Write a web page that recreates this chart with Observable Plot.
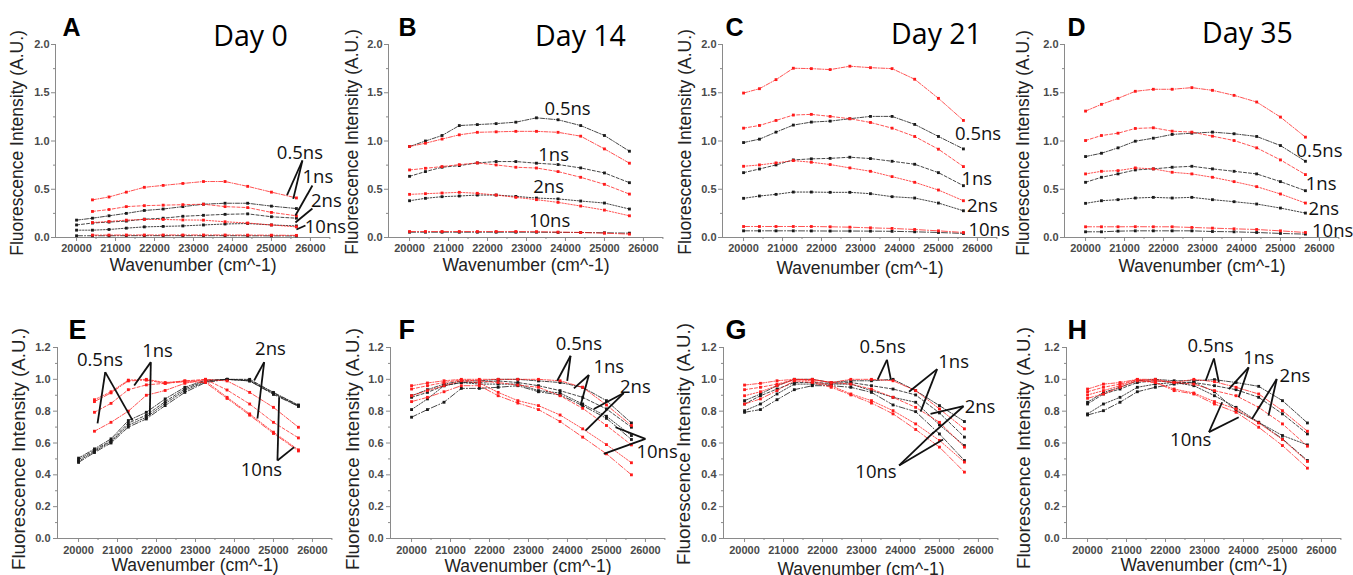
<!DOCTYPE html>
<html><head><meta charset="utf-8">
<script src="https://cdn.jsdelivr.net/npm/d3@7"></script>
<script src="https://cdn.jsdelivr.net/npm/@observablehq/plot@0.6"></script>
<style>
body{margin:0;background:#fff;}
#fig{position:relative;width:1353px;height:575px;overflow:hidden;background:#fff;}
#fig svg{position:absolute;overflow:visible;}
</style></head><body><div id="fig"></div>
<script>
// ---------- data ----------
const wavenumbers = [20000, 20408, 20833, 21277, 21739, 22222, 22727, 23256, 23810, 24390, 25000, 25641];
const lifetimes = ["0.5ns", "1ns", "2ns", "10ns"];
const xTickLabels = [20000, 21000, 22000, 23000, 24000, 25000, 26000];
const xMinorTicks = [20500, 21500, 22500, 23500, 24500, 25500, 26500];
const yTicksTop = [0, 0.5, 1.0, 1.5, 2.0];
const yMinorTop = [0.25, 0.75, 1.25, 1.75];
const yTicksBottom = [0, 0.2, 0.4, 0.6, 0.8, 1.0, 1.2];
const yMinorBottom = [0.1, 0.3, 0.5, 0.7, 0.9, 1.1];
const panelLetters = ["A", "B", "C", "D", "E", "F", "G", "H"];
const dayTitles = ["Day 0", "Day 14", "Day 21", "Day 35"];
const xAxisTitle = "Wavenumber (cm^-1)";
const yAxisTitle = "Fluorescence Intensity (A.U.)";

// rows follow lifetimes: 0.5ns, 1ns, 2ns, 10ns
const A_red = [
  [null, 0.39, 0.42, 0.47, 0.52, 0.54, 0.56, 0.58, 0.58, 0.53, 0.47, 0.41],
  [null, 0.27, 0.29, 0.32, 0.33, 0.335, 0.34, 0.345, 0.32, 0.31, 0.26, 0.225],
  [null, 0.155, 0.166, 0.18, 0.187, 0.187, 0.182, 0.18, 0.163, 0.15, 0.13, 0.11],
  [null, 0.025, 0.025, 0.026, 0.026, 0.026, 0.026, 0.026, 0.026, 0.025, 0.024, 0.022]];
const A_black = [
  [0.18, 0.2, 0.225, 0.25, 0.28, 0.295, 0.32, 0.345, 0.355, 0.355, 0.325, 0.3],
  [0.13, 0.15, 0.16, 0.17, 0.19, 0.2, 0.22, 0.23, 0.24, 0.245, 0.215, 0.2],
  [0.076, 0.076, 0.083, 0.097, 0.11, 0.115, 0.12, 0.13, 0.14, 0.145, 0.13, 0.12],
  [0.018, 0.018, 0.018, 0.019, 0.019, 0.019, 0.019, 0.019, 0.019, 0.018, 0.017, 0.016]];
const B_red = [
  [0.943, 0.977, 1.02, 1.064, 1.09, 1.095, 1.1, 1.1, 1.09, 1.05, 0.918, 0.77],
  [0.70, 0.717, 0.735, 0.755, 0.773, 0.752, 0.728, 0.72, 0.683, 0.624, 0.551, 0.45],
  [0.447, 0.454, 0.461, 0.468, 0.458, 0.44, 0.416, 0.392, 0.364, 0.326, 0.284, 0.225],
  [0.062, 0.062, 0.062, 0.062, 0.062, 0.062, 0.062, 0.06, 0.056, 0.052, 0.045, 0.035]];
const B_black = [
  [0.943, 1.0, 1.057, 1.16, 1.17, 1.18, 1.195, 1.24, 1.22, 1.16, 1.057, 0.894],
  [0.634, 0.683, 0.728, 0.745, 0.773, 0.787, 0.787, 0.77, 0.756, 0.721, 0.669, 0.568],
  [0.381, 0.406, 0.423, 0.43, 0.44, 0.44, 0.426, 0.409, 0.4, 0.378, 0.357, 0.295],
  [0.055, 0.055, 0.055, 0.055, 0.055, 0.055, 0.055, 0.055, 0.053, 0.052, 0.049, 0.045]];
const C_red = [
  [1.497, 1.542, 1.636, 1.754, 1.75, 1.74, 1.775, 1.76, 1.75, 1.64, 1.442, 1.213],
  [1.133, 1.161, 1.213, 1.269, 1.276, 1.255, 1.231, 1.192, 1.133, 1.047, 0.915, 0.735],
  [0.738, 0.752, 0.773, 0.797, 0.78, 0.756, 0.721, 0.686, 0.631, 0.572, 0.492, 0.381],
  [0.114, 0.114, 0.114, 0.114, 0.114, 0.111, 0.107, 0.1, 0.094, 0.083, 0.069, 0.052]];
const C_black = [
  [0.984, 1.019, 1.092, 1.165, 1.196, 1.206, 1.231, 1.255, 1.255, 1.172, 1.047, 0.918],
  [0.672, 0.71, 0.752, 0.804, 0.815, 0.82, 0.832, 0.818, 0.79, 0.759, 0.672, 0.537],
  [0.406, 0.43, 0.447, 0.471, 0.471, 0.468, 0.468, 0.454, 0.423, 0.409, 0.357, 0.277],
  [0.069, 0.069, 0.069, 0.069, 0.068, 0.067, 0.067, 0.066, 0.064, 0.059, 0.052, 0.042]];
const D_red = [
  [1.31, 1.38, 1.442, 1.515, 1.536, 1.536, 1.553, 1.525, 1.473, 1.404, 1.248, 1.04],
  [1.005, 1.057, 1.081, 1.13, 1.137, 1.102, 1.092, 1.05, 1.005, 0.929, 0.804, 0.652],
  [0.659, 0.686, 0.693, 0.721, 0.711, 0.676, 0.659, 0.624, 0.579, 0.527, 0.451, 0.357],
  [0.111, 0.111, 0.111, 0.112, 0.111, 0.111, 0.104, 0.097, 0.09, 0.083, 0.069, 0.052]];
const D_black = [
  [0.839, 0.873, 0.929, 0.998, 1.029, 1.068, 1.081, 1.092, 1.075, 1.047, 0.953, 0.79],
  [0.572, 0.624, 0.659, 0.7, 0.711, 0.728, 0.738, 0.711, 0.686, 0.659, 0.579, 0.485],
  [0.354, 0.381, 0.392, 0.409, 0.416, 0.409, 0.416, 0.392, 0.371, 0.347, 0.305, 0.253],
  [0.059, 0.059, 0.066, 0.069, 0.069, 0.069, 0.069, 0.062, 0.059, 0.052, 0.042, 0.035]];
const E_red = [
  [null, 0.674, 0.73, 0.80, 0.90, 0.93, 0.975, 1.0, 0.99, 0.918, 0.824, 0.699],
  [null, 0.793, 0.849, 0.935, 0.965, 0.975, 0.99, 1.0, 0.933, 0.845, 0.73, 0.632],
  [null, 0.872, 0.922, 0.995, 1.0, 0.98, 0.99, 0.99, 0.887, 0.783, 0.668, 0.557],
  [null, 0.86, 0.915, 0.99, 0.995, 0.975, 0.985, 0.98, 0.88, 0.775, 0.66, 0.55]];
const E_black = [
  [0.505, 0.563, 0.626, 0.741, 0.793, 0.877, 0.95, 0.995, 1.0, 1.0, 0.918, 0.839],
  [0.495, 0.555, 0.615, 0.725, 0.775, 0.86, 0.94, 0.99, 1.0, 0.995, 0.913, 0.835],
  [0.485, 0.548, 0.608, 0.712, 0.762, 0.848, 0.93, 0.985, 1.0, 0.99, 0.91, 0.832],
  [0.478, 0.54, 0.6, 0.70, 0.751, 0.835, 0.918, 0.98, 1.0, 0.99, 0.905, 0.83]];
const F_red = [
  [0.96, 0.977, 0.991, 1.0, 1.0, 1.0, 1.0, 1.0, 0.991, 0.95, 0.839, 0.71],
  [0.939, 0.96, 0.98, 0.996, 0.99, 0.98, 0.964, 0.95, 0.897, 0.818, 0.71, 0.588],
  [0.897, 0.929, 0.96, 0.991, 0.977, 0.918, 0.866, 0.835, 0.776, 0.689, 0.59, 0.476],
  [0.86, 0.887, 0.922, 0.96, 0.96, 0.897, 0.851, 0.81, 0.735, 0.637, 0.532, 0.4]];
const F_black = [
  [0.897, 0.935, 0.97, 0.99, 0.99, 1.0, 1.0, 0.99, 0.98, 0.95, 0.866, 0.726],
  [0.887, 0.918, 0.96, 0.98, 0.98, 0.99, 0.98, 0.96, 0.929, 0.887, 0.814, 0.699],
  [0.81, 0.877, 0.96, 0.98, 0.97, 0.97, 0.97, 0.929, 0.914, 0.845, 0.768, 0.647],
  [0.762, 0.81, 0.856, 0.943, 0.943, 0.95, 0.96, 0.922, 0.902, 0.835, 0.755, 0.622]];
const G_red = [
  [0.964, 0.975, 0.991, 1.0, 1.0, 0.98, 1.0, 1.0, 0.991, 0.929, 0.814, 0.689],
  [0.935, 0.95, 0.97, 0.998, 0.998, 0.98, 0.97, 0.939, 0.887, 0.824, 0.73, 0.574],
  [0.897, 0.922, 0.96, 0.998, 0.991, 0.96, 0.908, 0.866, 0.803, 0.72, 0.616, 0.48],
  [0.845, 0.877, 0.929, 0.991, 0.98, 0.95, 0.902, 0.851, 0.783, 0.685, 0.574, 0.417]];
const G_black = [
  [0.866, 0.908, 0.96, 1.0, 1.0, 0.98, 0.991, 0.991, 1.0, 0.929, 0.835, 0.735],
  [0.845, 0.897, 0.939, 0.98, 0.98, 0.975, 0.98, 0.96, 0.939, 0.902, 0.789, 0.637],
  [0.803, 0.845, 0.908, 0.97, 0.97, 0.97, 0.97, 0.929, 0.887, 0.856, 0.714, 0.584],
  [0.793, 0.81, 0.872, 0.935, 0.96, 0.96, 0.95, 0.918, 0.839, 0.797, 0.657, 0.49]];
const H_red = [
  [0.939, 0.97, 0.98, 1.0, 1.0, 0.98, 1.0, 0.985, 0.95, 0.908, 0.803, 0.674],
  [0.922, 0.95, 0.97, 0.998, 0.991, 0.98, 0.97, 0.929, 0.897, 0.824, 0.72, 0.58],
  [0.902, 0.929, 0.96, 0.998, 0.98, 0.939, 0.914, 0.86, 0.814, 0.726, 0.622, 0.484],
  [0.881, 0.908, 0.95, 0.991, 0.98, 0.929, 0.908, 0.845, 0.793, 0.699, 0.584, 0.442]];
const H_black = [
  [0.856, 0.918, 0.95, 0.991, 1.0, 0.991, 0.991, 0.998, 0.98, 0.956, 0.866, 0.726],
  [0.845, 0.908, 0.939, 0.98, 0.991, 0.98, 0.98, 0.96, 0.935, 0.887, 0.783, 0.657],
  [0.783, 0.845, 0.887, 0.95, 0.97, 0.98, 0.96, 0.897, 0.824, 0.73, 0.647, 0.588],
  [0.776, 0.803, 0.856, 0.922, 0.95, 0.97, 0.98, 0.922, 0.803, 0.73, 0.626, 0.49]];

// annotation labels [text, wavenumber, intensity]
const A_labels = [["0.5ns", 25731, 0.876], ["1ns", 26192, 0.627], ["2ns", 26410, 0.373], ["10ns", 26385, 0.104]];
const B_labels = [["0.5ns", 24054, 1.335], ["1ns", 23696, 0.85], ["2ns", 23567, 0.52], ["10ns", 23593, 0.173]];
const C_labels = [["0.5ns", 26017, 1.068], ["1ns", 25983, 0.607], ["2ns", 26128, 0.329], ["10ns", 26299, 0.076]];
const D_labels = [["0.5ns", 26000, 0.9], ["1ns", 26043, 0.555], ["2ns", 26111, 0.295], ["10ns", 26340, 0.062]];
const E_labels = [["0.5ns", 20551, 1.118], ["1ns", 22026, 1.175], ["2ns", 24923, 1.187], ["10ns", 24692, 0.427]];
const F_labels = [["0.5ns", 24293, 1.221], ["1ns", 25061, 1.075], ["2ns", 25743, 0.95], ["10ns", 26299, 0.543]];
const G_labels = [["0.5ns", 23542, 1.2], ["1ns", 25364, 1.106], ["2ns", 26042, 0.824], ["10ns", 23373, 0.417]];
const H_labels = [["0.5ns", 23157, 1.21], ["1ns", 24388, 1.131], ["2ns", 25321, 1.023], ["10ns", 22648, 0.616]];

// pointer lines [x1, y1, x2, y2]
const A_pointers = [[25795, 0.798, 25400, 0.44], [25795, 0.798, 25560, 0.40], [26051, 0.539, 25615, 0.228], [26051, 0.30, 25615, 0.155], [25872, 0.124, 25641, 0.083]];
const B_pointers = [];
const C_pointers = [];
const D_pointers = [];
const E_pointers = [[20685, 1.045, 20487, 0.723], [20685, 1.045, 21385, 0.742], [21854, 1.108, 21428, 0.961], [21854, 1.108, 21828, 0.773],
  [24762, 1.108, 24505, 0.993], [24762, 1.108, 24590, 0.754], [25103, 0.49, 25146, 0.888], [25103, 0.49, 25531, 0.574]];
const F_pointers = [[24080, 1.148, 23738, 0.991], [24080, 1.148, 23994, 0.991], [24549, 1.027, 24165, 0.943], [24549, 1.027, 24336, 0.835],
  [25444, 0.914, 24677, 0.814], [25444, 0.914, 24464, 0.678], [26000, 0.626, 25232, 0.699], [26000, 0.626, 24932, 0.532]];
const G_pointers = [[23653, 1.123, 23415, 0.998], [23653, 1.123, 23754, 0.998], [24941, 1.064, 24220, 0.922], [24941, 1.064, 24517, 0.797],
  [25619, 0.831, 24771, 0.783], [25619, 0.831, 24814, 0.657], [23966, 0.459, 24856, 0.668], [23966, 0.459, 25093, 0.622]];
const H_pointers = [[23242, 1.131, 23030, 0.991], [23242, 1.131, 23369, 0.981], [24133, 1.075, 23624, 0.939], [24133, 1.075, 23878, 0.887],
  [24854, 1.002, 24218, 0.751], [24854, 1.002, 24642, 0.772], [23115, 0.668, 23454, 0.856], [23115, 0.668, 23878, 0.762]];

// ---------- layout & style ----------
const xDomain = [19460, 26515];
const panels = [
  {red: A_red, black: A_black, labels: A_labels, pointers: A_pointers, row: 0, left: 0, width: 335, ml: 55, letterDx: 7, dayDx: 195, dayDy: 1, ylabDx: -38, ylabDy: 2, xlabDy: 33},
  {red: B_red, black: B_black, labels: B_labels, pointers: B_pointers, row: 0, left: 335, width: 335, ml: 53, letterDx: 10, dayDx: 192, dayDy: 1, ylabDx: -36, ylabDy: 1, xlabDy: 33},
  {red: C_red, black: C_black, labels: C_labels, pointers: C_pointers, row: 0, left: 670, width: 335, ml: 52, letterDx: 3, dayDx: 214, dayDy: -1, ylabDx: -37, ylabDy: 1, xlabDy: 36},
  {red: D_red, black: D_black, labels: D_labels, pointers: D_pointers, row: 0, left: 1005, width: 348, ml: 59, letterDx: 3, dayDx: 183, dayDy: -2, ylabDx: -41, ylabDy: 2, xlabDy: 34},
  {red: E_red, black: E_black, labels: E_labels, pointers: E_pointers, row: 1, left: 0, width: 335, ml: 57, letterDx: 11, ylabDx: -39, ylabDy: 6, xlabDy: 32},
  {red: F_red, black: F_black, labels: F_labels, pointers: F_pointers, row: 1, left: 335, width: 335, ml: 55, letterDx: 8, ylabDx: -38, ylabDy: 6, xlabDy: 33},
  {red: G_red, black: G_black, labels: G_labels, pointers: G_pointers, row: 1, left: 670, width: 335, ml: 53, letterDx: 2, ylabDx: -40, ylabDy: 1, xlabDy: 36},
  {red: H_red, black: H_black, labels: H_labels, pointers: H_pointers, row: 1, left: 1005, width: 348, ml: 61, letterDx: 1, ylabDx: -43, ylabDy: 5, xlabDy: 32}
];
const rows = [
  {top: 0, height: 290, mt: 44, mb: 53, yDomain: [0, 2], yTicks: yTicksTop, yMinor: yMinorTop, xPad: 3, yPad: 2, letterSize: 25, ylabSize: 17.5},
  {top: 285, height: 290, mt: 62, mb: 37, yDomain: [0, 1.2], yTicks: yTicksBottom, yMinor: yMinorBottom, xPad: 4, yPad: 3, letterSize: 27, ylabSize: 18.8}
];
const dashes = ["4,1.5,1,1.5", "3,2", "1.5,1.5", "6,2,1,2"];
const RED = "#ff1a1a", BLACK = "#1a1a1a";
const labelFont = "'Liberation Sans', Arial, sans-serif";
const annoFont = "'Open Sans', 'Noto Sans', sans-serif";
const frameWidth = 275;

const fig = document.getElementById("fig");

panels.forEach((p, i) => {
  const r = rows[p.row];
  const marks = [];
  // axis lines
  marks.push(Plot.ruleX([xDomain[0]], {stroke: "#8a8a8a", strokeWidth: 1}));
  marks.push(Plot.ruleY([r.yDomain[0]], {stroke: "#8a8a8a", strokeWidth: 1}));
  // axes
  marks.push(Plot.axisX(xTickLabels, {tickSize: 4, tickPadding: r.xPad, tickFormat: d3.format("d"), fontSize: 11, fontWeight: "bold", fill: "#4a4a4a", stroke: "#8a8a8a", label: null}));
  marks.push(Plot.axisX(xMinorTicks, {tickSize: 2, tickFormat: () => "", stroke: "#8a8a8a", label: null}));
  marks.push(Plot.axisY(r.yTicks, {tickSize: 4, tickPadding: r.yPad, tickFormat: d3.format(".1f"), fontSize: 11, fontWeight: "bold", fill: "#4a4a4a", stroke: "#8a8a8a", label: null}));
  marks.push(Plot.axisY(r.yMinor, {tickSize: 2, tickFormat: () => "", stroke: "#8a8a8a", label: null}));
  // series
  [[p.black, BLACK], [p.red, RED]].forEach(([series, color]) => {
    series.forEach((vals, k) => {
      const pts = wavenumbers.map((w, j) => ({x: w, y: vals[j], lt: lifetimes[k]})).filter(d => d.y != null);
      marks.push(Plot.line(pts, {x: "x", y: "y", stroke: color, strokeWidth: 1, strokeOpacity: color === RED ? 0.75 : 0.8, strokeDasharray: dashes[k]}));
      marks.push(Plot.dot(pts, {x: "x", y: "y", symbol: "square", r: 1.6, fill: color, stroke: "none"}));
    });
  });
  // pointers & annotation labels
  marks.push(Plot.link(p.pointers, {x1: d => d[0], y1: d => d[1], x2: d => d[2], y2: d => d[3], stroke: "#111", strokeWidth: 1.8}));
  marks.push(Plot.text(p.labels, {x: d => d[1], y: d => d[2], text: d => d[0], fontSize: 18.5, fontFamily: annoFont, fill: "#111"}));
  // titles
  marks.push(Plot.text([panelLetters[i]], {text: d => d, frameAnchor: "top-left", dx: p.letterDx, dy: -9, textAnchor: "start", lineAnchor: "bottom", fontSize: r.letterSize, fontWeight: "bold", fontFamily: labelFont, fill: "#000"}));
  if (p.row === 0) {
    marks.push(Plot.text([dayTitles[i]], {text: d => d, frameAnchor: "top-left", dx: p.dayDx, dy: p.dayDy, textAnchor: "middle", lineAnchor: "bottom", fontSize: 28.5, fontFamily: annoFont, fill: "#000"}));
  }
  marks.push(Plot.text([yAxisTitle], {text: d => d, frameAnchor: "left", dx: p.ylabDx, dy: p.ylabDy, rotate: -90, textAnchor: "middle", lineAnchor: "middle", fontSize: r.ylabSize, fontFamily: labelFont, fill: "#222"}));
  marks.push(Plot.text([xAxisTitle], {text: d => d, frameAnchor: "bottom", dy: p.xlabDy, textAnchor: "middle", lineAnchor: "bottom", fontSize: 17.5, fontFamily: labelFont, fill: "#222"}));

  const svg = Plot.plot({
    width: p.width,
    height: r.height,
    marginLeft: p.ml,
    marginRight: p.width - p.ml - frameWidth,
    marginTop: r.mt,
    marginBottom: r.mb,
    x: {domain: xDomain, label: null},
    y: {domain: r.yDomain, label: null},
    style: {background: "transparent", fontFamily: labelFont, overflow: "visible"},
    marks
  });
  svg.style.left = p.left + "px";
  svg.style.top = r.top + "px";
  fig.appendChild(svg);
});
</script></body></html>
